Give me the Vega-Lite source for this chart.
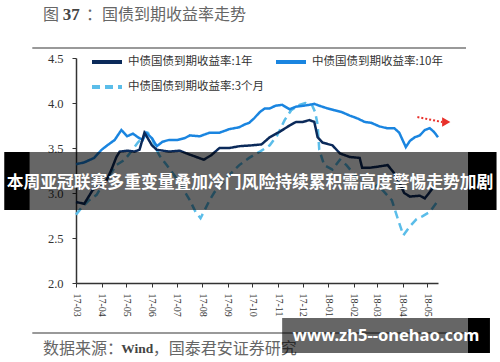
{
"$schema": "https://vega.github.io/schema/vega-lite/v6.json",
"width": 362, "height": 225,
"autosize": {"type": "none"},
"padding": {"left": 76, "top": 58, "right": 62, "bottom": 79},
"background": "white",
"config": {"view": {"stroke": null}, "font": "Noto Sans CJK SC"},
"datasets": {
"yields": [
{"series":"中债国债到期收益率:3个月","date":"2017-03-01","v":2.76},
{"series":"中债国债到期收益率:3个月","date":"2017-03-08","v":2.84},
{"series":"中债国债到期收益率:3个月","date":"2017-03-17","v":2.92},
{"series":"中债国债到期收益率:3个月","date":"2017-03-26","v":2.98},
{"series":"中债国债到期收益率:3个月","date":"2017-04-02","v":3.09},
{"series":"中债国债到期收益率:3个月","date":"2017-04-11","v":3.20},
{"series":"中债国债到期收益率:3个月","date":"2017-04-19","v":3.31},
{"series":"中债国债到期收益率:3个月","date":"2017-04-29","v":3.37},
{"series":"中债国债到期收益率:3个月","date":"2017-05-07","v":3.46},
{"series":"中债国债到期收益率:3个月","date":"2017-05-15","v":3.56},
{"series":"中债国债到期收益率:3个月","date":"2017-05-21","v":3.62},
{"series":"中债国债到期收益率:3个月","date":"2017-05-27","v":3.67},
{"series":"中债国债到期收益率:3个月","date":"2017-06-01","v":3.62},
{"series":"中债国债到期收益率:3个月","date":"2017-06-04","v":3.53},
{"series":"中债国债到期收益率:3个月","date":"2017-06-10","v":3.42},
{"series":"中债国债到期收益率:3个月","date":"2017-06-19","v":3.31},
{"series":"中债国债到期收益率:3个月","date":"2017-06-28","v":3.20},
{"series":"中债国债到期收益率:3个月","date":"2017-07-08","v":3.06},
{"series":"中债国债到期收益率:3个月","date":"2017-07-17","v":2.92},
{"series":"中债国债到期收益率:3个月","date":"2017-07-24","v":2.79},
{"series":"中债国债到期收益率:3个月","date":"2017-07-30","v":2.72},
{"series":"中债国债到期收益率:3个月","date":"2017-08-04","v":2.81},
{"series":"中债国债到期收益率:3个月","date":"2017-08-10","v":2.92},
{"series":"中债国债到期收益率:3个月","date":"2017-08-16","v":3.01},
{"series":"中债国债到期收益率:3个月","date":"2017-08-24","v":3.09},
{"series":"中债国债到期收益率:3个月","date":"2017-09-03","v":3.20},
{"series":"中债国债到期收益率:3个月","date":"2017-09-15","v":3.31},
{"series":"中债国债到期收益率:3个月","date":"2017-09-27","v":3.39},
{"series":"中债国债到期收益率:3个月","date":"2017-10-10","v":3.46},
{"series":"中债国债到期收益率:3个月","date":"2017-10-22","v":3.53},
{"series":"中债国债到期收益率:3个月","date":"2017-10-31","v":3.64},
{"series":"中债国债到期收益率:3个月","date":"2017-11-09","v":3.81},
{"series":"中债国债到期收益率:3个月","date":"2017-11-17","v":3.92},
{"series":"中债国债到期收益率:3个月","date":"2017-11-27","v":3.98},
{"series":"中债国债到期收益率:3个月","date":"2017-12-04","v":4.00},
{"series":"中债国债到期收益率:3个月","date":"2017-12-12","v":3.98},
{"series":"中债国债到期收益率:3个月","date":"2017-12-16","v":3.90},
{"series":"中债国债到期收益率:3个月","date":"2017-12-19","v":3.76},
{"series":"中债国债到期收益率:3个月","date":"2017-12-21","v":3.48},
{"series":"中债国债到期收益率:3个月","date":"2017-12-27","v":3.31},
{"series":"中债国债到期收益率:3个月","date":"2018-01-06","v":3.26},
{"series":"中债国债到期收益率:3个月","date":"2018-01-15","v":3.37},
{"series":"中债国债到期收益率:3个月","date":"2018-01-23","v":3.31},
{"series":"中债国债到期收益率:3个月","date":"2018-02-02","v":3.20},
{"series":"中债国债到期收益率:3个月","date":"2018-02-10","v":3.12},
{"series":"中债国债到期收益率:3个月","date":"2018-02-20","v":3.03},
{"series":"中债国债到期收益率:3个月","date":"2018-03-02","v":3.09},
{"series":"中债国债到期收益率:3个月","date":"2018-03-10","v":3.01},
{"series":"中债国债到期收益率:3个月","date":"2018-03-19","v":2.92},
{"series":"中债国债到期收益率:3个月","date":"2018-03-26","v":2.72},
{"series":"中债国债到期收益率:3个月","date":"2018-04-02","v":2.53},
{"series":"中债国债到期收益率:3个月","date":"2018-04-10","v":2.63},
{"series":"中债国债到期收益率:3个月","date":"2018-04-18","v":2.71},
{"series":"中债国债到期收益率:3个月","date":"2018-04-25","v":2.74},
{"series":"中债国债到期收益率:3个月","date":"2018-05-04","v":2.79},
{"series":"中债国债到期收益率:3个月","date":"2018-05-12","v":2.89},
{"series":"中债国债到期收益率:10年","date":"2017-03-01","v":3.32},
{"series":"中债国债到期收益率:10年","date":"2017-03-11","v":3.34},
{"series":"中债国债到期收益率:10年","date":"2017-03-23","v":3.39},
{"series":"中债国债到期收益率:10年","date":"2017-04-01","v":3.48},
{"series":"中债国债到期收益率:10年","date":"2017-04-08","v":3.53},
{"series":"中债国债到期收益率:10年","date":"2017-04-17","v":3.59},
{"series":"中债国债到期收益率:10年","date":"2017-04-25","v":3.70},
{"series":"中债国债到期收益率:10年","date":"2017-05-02","v":3.63},
{"series":"中债国债到期收益率:10年","date":"2017-05-09","v":3.66},
{"series":"中债国债到期收益率:10年","date":"2017-05-15","v":3.62},
{"series":"中债国债到期收益率:10年","date":"2017-05-21","v":3.59},
{"series":"中债国债到期收益率:10年","date":"2017-05-25","v":3.67},
{"series":"中债国债到期收益率:10年","date":"2017-06-01","v":3.61},
{"series":"中债国债到期收益率:10年","date":"2017-06-07","v":3.52},
{"series":"中债国债到期收益率:10年","date":"2017-06-14","v":3.57},
{"series":"中债国债到期收益率:10年","date":"2017-06-22","v":3.59},
{"series":"中债国债到期收益率:10年","date":"2017-07-02","v":3.59},
{"series":"中债国债到期收益率:10年","date":"2017-07-11","v":3.61},
{"series":"中债国债到期收益率:10年","date":"2017-07-17","v":3.64},
{"series":"中债国债到期收益率:10年","date":"2017-07-29","v":3.63},
{"series":"中债国债到期收益率:10年","date":"2017-08-10","v":3.67},
{"series":"中债国债到期收益率:10年","date":"2017-08-22","v":3.67},
{"series":"中债国债到期收益率:10年","date":"2017-09-03","v":3.71},
{"series":"中债国债到期收益率:10年","date":"2017-09-15","v":3.73},
{"series":"中债国债到期收益率:10年","date":"2017-09-21","v":3.76},
{"series":"中债国债到期收益率:10年","date":"2017-09-27","v":3.78},
{"series":"中债国债到期收益率:10年","date":"2017-10-03","v":3.83},
{"series":"中债国债到期收益率:10年","date":"2017-10-10","v":3.90},
{"series":"中债国债到期收益率:10年","date":"2017-10-16","v":3.94},
{"series":"中债国债到期收益率:10年","date":"2017-10-22","v":3.94},
{"series":"中债国债到期收益率:10年","date":"2017-10-29","v":3.97},
{"series":"中债国债到期收益率:10年","date":"2017-11-06","v":3.98},
{"series":"中债国债到期收益率:10年","date":"2017-11-15","v":3.93},
{"series":"中债国债到期收益率:10年","date":"2017-11-23","v":3.96},
{"series":"中债国债到期收益率:10年","date":"2017-12-02","v":3.97},
{"series":"中债国债到期收益率:10年","date":"2017-12-09","v":3.98},
{"series":"中债国债到期收益率:10年","date":"2017-12-15","v":3.99},
{"series":"中债国债到期收益率:10年","date":"2017-12-21","v":3.97},
{"series":"中债国债到期收益率:10年","date":"2017-12-31","v":3.94},
{"series":"中债国债到期收益率:10年","date":"2018-01-08","v":3.92},
{"series":"中债国债到期收益率:10年","date":"2018-01-17","v":3.90},
{"series":"中债国债到期收益率:10年","date":"2018-01-27","v":3.86},
{"series":"中债国债到期收益率:10年","date":"2018-02-05","v":3.83},
{"series":"中债国债到期收益率:10年","date":"2018-02-14","v":3.79},
{"series":"中债国债到期收益率:10年","date":"2018-02-22","v":3.78},
{"series":"中债国债到期收益率:10年","date":"2018-03-04","v":3.74},
{"series":"中债国债到期收益率:10年","date":"2018-03-13","v":3.72},
{"series":"中债国债到期收益率:10年","date":"2018-03-22","v":3.72},
{"series":"中债国债到期收益率:10年","date":"2018-03-28","v":3.67},
{"series":"中债国债到期收益率:10年","date":"2018-04-01","v":3.59},
{"series":"中债国债到期收益率:10年","date":"2018-04-05","v":3.51},
{"series":"中债国债到期收益率:10年","date":"2018-04-10","v":3.58},
{"series":"中债国债到期收益率:10年","date":"2018-04-16","v":3.62},
{"series":"中债国债到期收益率:10年","date":"2018-04-22","v":3.64},
{"series":"中债国债到期收益率:10年","date":"2018-04-28","v":3.70},
{"series":"中债国债到期收益率:10年","date":"2018-05-04","v":3.72},
{"series":"中债国债到期收益率:10年","date":"2018-05-09","v":3.68},
{"series":"中债国债到期收益率:10年","date":"2018-05-14","v":3.62},
{"series":"中债国债到期收益率:1年","date":"2017-03-01","v":2.90},
{"series":"中债国债到期收益率:1年","date":"2017-03-11","v":2.88},
{"series":"中债国债到期收益率:1年","date":"2017-03-21","v":3.03},
{"series":"中债国债到期收益率:1年","date":"2017-03-29","v":3.08},
{"series":"中债国债到期收益率:1年","date":"2017-04-07","v":3.14},
{"series":"中债国债到期收益率:1年","date":"2017-04-13","v":3.26},
{"series":"中债国债到期收益率:1年","date":"2017-04-19","v":3.40},
{"series":"中债国债到期收益率:1年","date":"2017-04-23","v":3.46},
{"series":"中债国债到期收益率:1年","date":"2017-05-02","v":3.47},
{"series":"中债国债到期收益率:1年","date":"2017-05-11","v":3.46},
{"series":"中债国债到期收益率:1年","date":"2017-05-17","v":3.48},
{"series":"中债国债到期收益率:1年","date":"2017-05-23","v":3.67},
{"series":"中债国债到期收益率:1年","date":"2017-05-27","v":3.61},
{"series":"中债国债到期收益率:1年","date":"2017-06-01","v":3.53},
{"series":"中债国债到期收益率:1年","date":"2017-06-07","v":3.48},
{"series":"中债国债到期收益率:1年","date":"2017-06-22","v":3.46},
{"series":"中债国债到期收益率:1年","date":"2017-07-05","v":3.47},
{"series":"中债国债到期收益率:1年","date":"2017-07-13","v":3.44},
{"series":"中债国债到期收益率:1年","date":"2017-07-25","v":3.40},
{"series":"中债国债到期收益率:1年","date":"2017-08-03","v":3.37},
{"series":"中债国债到期收益率:1年","date":"2017-08-12","v":3.42},
{"series":"中债国债到期收益率:1年","date":"2017-08-22","v":3.50},
{"series":"中债国债到期收益率:1年","date":"2017-09-03","v":3.50},
{"series":"中债国债到期收益率:1年","date":"2017-09-15","v":3.52},
{"series":"中债国债到期收益率:1年","date":"2017-10-01","v":3.53},
{"series":"中债国债到期收益率:1年","date":"2017-10-12","v":3.54},
{"series":"中债国债到期收益率:1年","date":"2017-10-22","v":3.62},
{"series":"中债国债到期收益率:1年","date":"2017-11-03","v":3.68},
{"series":"中债国债到期收益率:1年","date":"2017-11-15","v":3.75},
{"series":"中债国债到期收益率:1年","date":"2017-11-23","v":3.79},
{"series":"中债国债到期收益率:1年","date":"2017-12-01","v":3.79},
{"series":"中债国债到期收益率:1年","date":"2017-12-09","v":3.81},
{"series":"中债国债到期收益率:1年","date":"2017-12-15","v":3.79},
{"series":"中债国债到期收益率:1年","date":"2017-12-19","v":3.62},
{"series":"中债国债到期收益率:1年","date":"2017-12-25","v":3.56},
{"series":"中债国债到期收益率:1年","date":"2018-01-06","v":3.53},
{"series":"中债国债到期收益率:1年","date":"2018-01-15","v":3.44},
{"series":"中债国债到期收益率:1年","date":"2018-01-27","v":3.40},
{"series":"中债国债到期收益率:1年","date":"2018-02-08","v":3.39},
{"series":"中债国债到期收益率:1年","date":"2018-02-11","v":3.28},
{"series":"中债国债到期收益率:1年","date":"2018-02-20","v":3.28},
{"series":"中债国债到期收益率:1年","date":"2018-02-28","v":3.29},
{"series":"中债国债到期收益率:1年","date":"2018-03-14","v":3.31},
{"series":"中债国债到期收益率:1年","date":"2018-03-21","v":3.23},
{"series":"中债国债到期收益率:1年","date":"2018-03-28","v":3.12},
{"series":"中债国债到期收益率:1年","date":"2018-04-03","v":3.00},
{"series":"中债国债到期收益率:1年","date":"2018-04-10","v":2.96},
{"series":"中债国债到期收益率:1年","date":"2018-04-22","v":2.97},
{"series":"中债国债到期收益率:1年","date":"2018-04-28","v":2.94},
{"series":"中债国债到期收益率:1年","date":"2018-05-04","v":3.01},
{"series":"中债国债到期收益率:1年","date":"2018-05-12","v":3.11}
],
"seps": [
{"date":"2017-01-07","date2":"2018-06-17","v":4.611},
{"date":"2017-01-07","date2":"2018-06-17","v":1.444}
],
"greytext": [
{"date":"2017-01-20","v":4.978,"label":"图"},
{"date":"2017-03-13","v":4.978,"label":"：国债到期收益率走势"},
{"date":"2017-01-20","v":1.267,"label":"数据来源："},
{"date":"2017-06-02","v":1.267,"label":"，国泰君安证券研究"}
],
"boldtitle": [
{"date":"2017-02-13","v":4.978,"label":"37"}
],
"boldsource": [
{"date":"2017-04-25","v":1.267,"label":"Wind"}
],
"arrow": [
{"date":"2018-04-19","v":3.844,"date2":"2018-05-19","v2":3.789}
],
"arrowhead": [
{"date":"2018-05-24","v":3.789}
],
"bandends": [
{"date":"2016-12-04","date2":"2017-01-04","v":3.456,"v2":2.811},
{"date":"2018-06-19","date2":"2018-07-24","v":3.456,"v2":2.811},
{"date":"2018-06-19","date2":"2018-07-16","v":1.611,"v2":1.222}
],
"bandmid": [
{"date":"2017-01-04","date2":"2018-06-19","v":3.456,"v2":2.811},
{"date":"2017-11-06","date2":"2018-06-19","v":1.611,"v2":1.222}
],
"banner": [
{"date":"2017-09-28","v":3.111,"label":"本周亚冠联赛多重变量叠加冷门风险持续累积需高度警惕走势加剧"}
],
"watermark": [
{"date":"2018-03-12","v":1.411,"label":"www.zh5--onehao.com"}
]
},
"encoding": {
"x": {"field":"date","type":"temporal","title":null,
 "scale":{"type":"utc","domain":[{"year":2017,"month":3,"date":1,"utc":true},{"year":2018,"month":5,"date":14,"utc":true}],"nice":false},
 "axis":{"format":"%y-%m","labelAngle":90,"tickCount":{"interval":"month","step":1},"labelFont":"Liberation Serif","labelFontSize":10,"labelColor":"#333","tickColor":"#333","domainColor":"#333","domainWidth":1.5,"tickSize":4,"labelPadding":6,"grid":false,"labelOverlap":false,"labelFlush":false}},
"y": {"field":"v","type":"quantitative","title":null,
 "scale":{"domain":[2,4.5],"nice":false,"zero":false},
 "axis":{"values":[2,2.5,3,3.5,4,4.5],"format":".1f","labelFont":"Liberation Serif","labelFontSize":12.5,"labelColor":"#333","tickColor":"#333","domainColor":"#333","domainWidth":1.5,"tickSize":4,"labelPadding":9,"grid":false}}
},
"layer": [
{"data":{"name":"yields"},
 "mark":{"type":"line","strokeWidth":2.5},
 "encoding":{
  "color":{"field":"series","type":"nominal","scale":{"domain":["中债国债到期收益率:1年","中债国债到期收益率:3个月","中债国债到期收益率:10年"],"range":["#0b2a5a","#5bbde9","#1a85e0"]},
   "legend":{"orient":"none","legendX":14,"legendY":-13,"columns":2,"title":null,"symbolType":"stroke","symbolSize":900,"symbolStrokeWidth":4,"labelFont":"Noto Sans CJK SC","labelFontSize":11.5,"labelColor":"#333","rowPadding":-8,"columnPadding":3,"labelOffset":4}},
  "strokeDash":{"field":"series","type":"nominal","scale":{"domain":["中债国债到期收益率:1年","中债国债到期收益率:3个月","中债国债到期收益率:10年"],"range":[[1,0],[8,5],[1,0]]},
   "legend":{"orient":"none","legendX":14,"legendY":-13,"columns":2,"title":null,"symbolType":"stroke","symbolSize":900,"symbolStrokeWidth":4,"labelFont":"Noto Sans CJK SC","labelFontSize":11.5,"labelColor":"#333","rowPadding":-8,"columnPadding":3,"labelOffset":4}}
 }},
{"data":{"name":"seps"},"mark":{"type":"rule","color":"#777","strokeWidth":1.5},"encoding":{"x2":{"field":"date2"}}},
{"data":{"name":"greytext"},"mark":{"type":"text","align":"left","baseline":"middle","font":"Noto Sans CJK SC","fontSize":16,"color":"#666"},"encoding":{"text":{"field":"label"}}},
{"data":{"name":"boldtitle"},"mark":{"type":"text","align":"left","baseline":"middle","font":"Liberation Serif","fontWeight":"bold","fontSize":17,"color":"#444"},"encoding":{"text":{"field":"label"}}},
{"data":{"name":"boldsource"},"mark":{"type":"text","align":"left","baseline":"middle","font":"Liberation Serif","fontWeight":"bold","fontSize":13.5,"color":"#444"},"encoding":{"text":{"field":"label"}}},
{"data":{"name":"arrow"},"mark":{"type":"rule","color":"#e8302a","strokeWidth":2,"strokeDash":[2,2]},"encoding":{"x2":{"field":"date2"},"y2":{"field":"v2"}}},
{"data":{"name":"arrowhead"},"mark":{"type":"point","shape":"triangle-right","filled":true,"color":"#e8302a","size":90,"opacity":1},"encoding":{}},
{"data":{"name":"bandmid"},"mark":{"type":"rect","color":"#000","opacity":0.6},"encoding":{"x2":{"field":"date2"},"y2":{"field":"v2"}}},
{"data":{"name":"bandends"},"mark":{"type":"rect","color":"#000","opacity":1},"encoding":{"x2":{"field":"date2"},"y2":{"field":"v2"}}},
{"data":{"name":"banner"},"mark":{"type":"text","align":"center","baseline":"middle","font":"Noto Sans CJK SC","fontWeight":"bold","fontSize":16.8,"color":"#fff"},"encoding":{"text":{"field":"label"}}},
{"data":{"name":"watermark"},"mark":{"type":"text","align":"center","baseline":"middle","font":"Noto Sans","fontWeight":"bold","fontSize":16.5,"color":"#fff"},"encoding":{"text":{"field":"label"}}}
]
}
